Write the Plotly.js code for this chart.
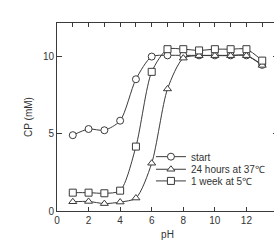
<!DOCTYPE html>
<html>
<head>
<meta charset="utf-8">
<script src="https://cdn.plot.ly/plotly-3.0.1.min.js"></script>
<style>html,body{margin:0;padding:0;overflow:hidden;background:#fff;}</style>
</head>
<body>
<div id="chart"></div>
<script>
var pH = [1, 2, 3, 4, 5, 6, 7, 8, 9, 10, 11, 12, 13];
var startCP = [4.92, 5.32, 5.24, 5.86, 8.55, 10.02, 10.1, 10.1, 10.1, 10.1, 10.1, 10.1, 9.48];
var hours24CP = [0.6, 0.62, 0.48, 0.58, 0.84, 3.1, 7.92, 9.92, 10.08, 10.08, 10.08, 10.08, 9.45];
var week1CP = [1.19, 1.19, 1.15, 1.32, 4.18, 9.03, 10.5, 10.5, 10.42, 10.5, 10.5, 10.5, 9.76];
var seriesNames = ['start', '24 hours at 37\u2103', '1 week at 5\u2103'];
var xTicks = [0, 2, 4, 6, 8, 10, 12, 14];
var yTicks = [0, 5, 10];

var ink = '#3a3a3a';
function mk(y, sym, name, xa, lg) {
  return {
    x: pH, y: y, name: name, type: 'scatter', mode: 'lines+markers',
    xaxis: xa, yaxis: 'y', legend: lg,
    line: {color: ink, width: 1, shape: 'spline', smoothing: 0.75},
    marker: {symbol: sym, size: 7, color: '#fff', line: {color: ink, width: 1}},
    cliponaxis: false
  };
}
var traces = [
  mk(startCP, 'circle', seriesNames[0], 'x', 'legend'),
  mk(hours24CP, 'triangle-up', seriesNames[1], 'x2', 'legend2'),
  mk(week1CP, 'square', seriesNames[2], 'x2', 'legend3')
];

var fnt = {family: 'Liberation Sans, Arial, sans-serif', size: 10, color: '#333'};
var lg = function (y) {
  return {x: 0.425, y: y, xanchor: 'left', yanchor: 'middle', bgcolor: 'rgba(0,0,0,0)',
          font: fnt, itemwidth: 30, borderwidth: 0};
};
var layout = {
  width: 280, height: 251,
  margin: {l: 57, r: 2, t: 23, b: 40},
  paper_bgcolor: '#fff', plot_bgcolor: '#fff',
  font: fnt,
  showlegend: true,
  legend: lg(0.289), legend2: lg(0.222), legend3: lg(0.16),
  xaxis: {
    range: [0, 14], tickvals: xTicks, ticktext: xTicks.map(String),
    ticks: 'inside', ticklen: 4, tickcolor: ink, showline: true, linecolor: ink, linewidth: 1,
    mirror: true, showgrid: false, zeroline: false, tickfont: fnt,
    title: {text: 'pH', font: fnt, standoff: 5}
  },
  xaxis2: {
    range: [0, 14], overlaying: 'x', side: 'top', anchor: 'y', dtick: 1, tick0: 0,
    ticks: 'inside', ticklen: 4, tickcolor: ink, showticklabels: false,
    showline: false, showgrid: false, zeroline: false
  },
  yaxis: {
    range: [0, 12.2], tickvals: yTicks, ticktext: yTicks.map(String),
    ticks: 'inside', ticklen: 5, tickcolor: ink, showline: true, linecolor: ink, linewidth: 1,
    mirror: 'ticks', showgrid: false, zeroline: false, tickfont: fnt,
    title: {text: 'CP (mM)', font: fnt, standoff: 8}
  }
};
Plotly.newPlot('chart', traces, layout, {displayModeBar: false, staticPlot: true});
</script>
</body>
</html>
